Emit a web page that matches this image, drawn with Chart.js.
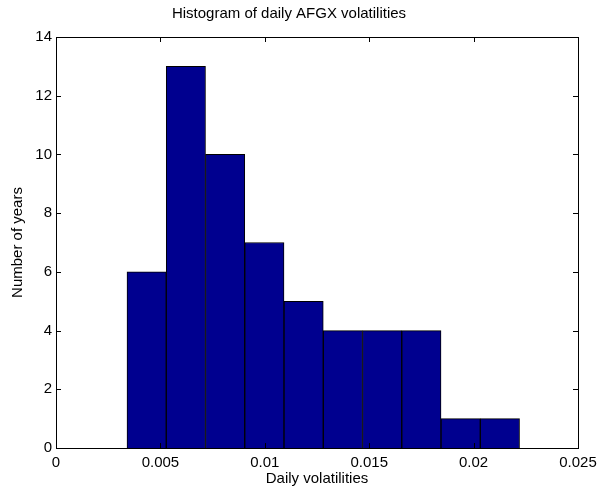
<!DOCTYPE html>
<html>
<head>
<meta charset="utf-8">
<script src="https://cdn.jsdelivr.net/npm/chart.js@4"></script>
<style>
  html, body { margin: 0; padding: 0; background: #fff; }
  #wrap { width: 597px; height: 488px; }
</style>
</head>
<body>
<div id="wrap"><canvas id="histChart" width="597" height="488"></canvas></div>
<script>
// bin centres (daily volatility) and counts
var binCenters = [0.00434, 0.00622, 0.0081, 0.00998, 0.01186, 0.01374, 0.01562, 0.0175, 0.01938, 0.02126];
var yearCounts = [6, 13, 10, 7, 5, 4, 4, 4, 1, 1];
var xTicks = [0, 0.005, 0.01, 0.015, 0.02, 0.025];
var xTickLabels = ["0", "0.005", "0.01", "0.015", "0.02", "0.025"];
var yTicks = [0, 2, 4, 6, 8, 10, 12, 14];

var fontFamily = "'Liberation Sans', Arial, Helvetica, sans-serif";

var points = binCenters.map(function(c, i){ return {x: c, y: yearCounts[i]}; });

// MATLAB-like box with inward tick marks
var matlabFrame = {
    id: 'matlabFrame',
    afterDraw: function(chart){
        var ctx = chart.ctx;
        var a = chart.chartArea;
        var xs = chart.scales.x, ys = chart.scales.y;
        var tl = 5;
        ctx.save();
        ctx.strokeStyle = '#000';
        ctx.lineWidth = 1;
        ctx.beginPath();
        xTicks.forEach(function(v){
            var px = Math.round(xs.getPixelForValue(v)) + 0.5;
            ctx.moveTo(px, a.bottom); ctx.lineTo(px, a.bottom - tl);
            ctx.moveTo(px, a.top); ctx.lineTo(px, a.top + tl);
        });
        yTicks.forEach(function(v){
            var py = Math.round(ys.getPixelForValue(v)) + 0.5;
            ctx.moveTo(a.left, py); ctx.lineTo(a.left + tl, py);
            ctx.moveTo(a.right, py); ctx.lineTo(a.right - tl, py);
        });
        ctx.stroke();
        ctx.strokeRect(Math.round(a.left) + 0.5, Math.round(a.top) + 0.5,
                       Math.round(a.right - a.left), Math.round(a.bottom - a.top));
        ctx.restore();
    }
};

var ctx = document.getElementById("histChart").getContext("2d");
new Chart(ctx, {
    type: 'bar',
    data: {
        datasets: [{
            label: "Number of years",
            data: points,
            backgroundColor: "#00008f",
            borderColor: "#000000",
            borderWidth: 1,
            barPercentage: 1,
            categoryPercentage: 1
        }]
    },
    options: {
        responsive: false,
        animation: false,
        events: [],
        layout: { padding: { left: 0, right: 19, top: 0, bottom: 0 } },
        plugins: {
            legend: { display: false },
            tooltip: { enabled: false },
            title: {
                display: true,
                text: "Histogram of daily AFGX volatilities",
                color: '#000',
                font: { family: fontFamily, size: 15, weight: 'normal' },
                padding: { top: 5, bottom: 14 }
            }
        },
        scales: {
            x: {
                type: 'linear',
                offset: false,
                min: 0,
                max: 0.025,
                afterBuildTicks: function(scale){
                    scale.ticks = xTicks.map(function(v){ return {value: v}; });
                },
                afterFit: function(scale){
                    scale.height = 40;
                    scale.paddingLeft = 0;
                    scale.paddingRight = 0;
                },
                grid: { display: false, drawTicks: false, offset: false },
                border: { display: false },
                ticks: {
                    color: '#000',
                    padding: 6,
                    maxRotation: 0,
                    autoSkip: false,
                    font: { family: fontFamily, size: 15 },
                    callback: function(v, i){ return xTickLabels[i]; }
                },
                title: {
                    display: true,
                    text: "Daily volatilities",
                    color: '#000',
                    font: { family: fontFamily, size: 15 },
                    padding: { top: 0, bottom: 0 }
                }
            },
            y: {
                min: 0,
                max: 14,
                afterBuildTicks: function(scale){
                    scale.ticks = yTicks.map(function(v){ return {value: v}; });
                },
                afterFit: function(scale){
                    scale.width = 56;
                    scale.paddingTop = 0;
                    scale.paddingBottom = 0;
                },
                grid: { display: false, drawTicks: false },
                border: { display: false },
                ticks: {
                    color: '#000',
                    padding: 4,
                    autoSkip: false,
                    font: { family: fontFamily, size: 15 }
                },
                title: {
                    display: true,
                    text: "Number of years",
                    color: '#000',
                    font: { family: fontFamily, size: 15 },
                    padding: { top: 9, bottom: 0 }
                }
            }
        }
    },
    plugins: [matlabFrame]
});
</script>
</body>
</html>
